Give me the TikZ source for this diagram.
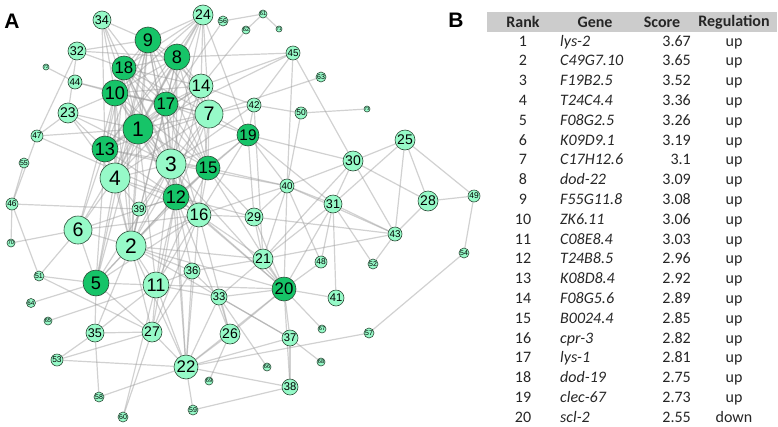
\documentclass[tikz,border=0pt]{standalone}
\usepackage{fontspec}
\setmainfont{Liberation Sans}
\newfontfamily\tabfont{Carlito}
\usetikzlibrary{backgrounds}
\definecolor{dkg}{RGB}{22,196,104}
\definecolor{ltg}{RGB}{150,250,200}
\definecolor{ndborder}{RGB}{45,75,55}
\begin{document}
\begin{tikzpicture}[x=1pt,y=-1pt,
  nd/.style={circle,draw=ndborder,line width=0.6pt,inner sep=0pt},
  dk/.style={fill=dkg}, lt/.style={fill=ltg},
  edge/.style={draw=black!40,opacity=0.45,line width=1.2pt},
  panel/.style={font=\bfseries\fontsize{21}{21}\selectfont},
  tc/.style={font=\tabfont\fontsize{16}{16}\selectfont,text=black!85,text height=11pt,text depth=3pt,inner sep=0pt},
  hd/.style={font=\tabfont\bfseries\fontsize{16}{16}\selectfont,text=black!85,inner sep=0pt}]
\useasboundingbox (0,0) rectangle (778,426);
\node[panel] (pa) at (12,21) {A};
\node[panel] (pb) at (456,20) {B};
% nodes
\foreach \n/\x/\y/\r/\c in {
 1/138/129/15/dk, 2/131/246/15/lt, 3/171/164/15/lt, 4/115/178/15/lt, 5/96/283/13/dk,
 6/78/230/14/lt, 7/209/114/14/lt, 8/177/57/13/dk, 9/148/40/13/dk, 10/115/93/13/dk,
 11/156/285/13/lt, 12/176/197/13/dk, 13/105/149/13/dk, 14/201/86/12/lt, 15/208/168/12/dk,
 16/199/215/12/lt, 17/166/104/12/dk, 18/124/68/12/dk, 19/248/135/11/dk, 20/284/289/12/dk,
 21/263/259/10/lt, 22/186/367/12/lt, 23/68/113/10/lt, 24/203/15/10/lt, 25/405/140/10/lt,
 26/230/334/10/lt, 27/152/332/10/lt, 28/428/201/10/lt, 29/254/217/9/lt, 30/353/161/10/lt,
 31/333/204/9/lt, 32/77/51/9/lt, 33/219/297/8/lt, 34/102/20/9/lt, 35/95/333/9/lt,
 36/192/271/8/lt, 37/290/338/8/lt, 38/290/387/8/lt, 39/139/209/7/lt, 40/287/186/7/lt,
 41/336/298/8/lt, 42/254/105/7/lt, 43/395/234/7/lt, 44/75/82/7/lt, 45/293/53/7/lt,
 46/12/204/6/lt, 47/37/136/6/lt, 48/321/262/6/lt, 49/474/196/6/lt, 50/301/113/6/lt,
 51/39/276/5/lt, 52/373/264/5/lt, 53/57/360/6/lt, 54/464/253/5/lt, 55/24/163/5/lt,
 56/223/21/5/lt, 57/369/333/5/lt, 58/99/397/5/lt, 59/193/410/5/lt, 60/123/417/5/lt,
 61/263/14/4/lt, 62/246/30/4/lt, 63/321/77/5/lt, 64/31/303/4.5/lt, 65/48/321/4/lt,
 66/267/367/4/lt, 67/322/329/4/lt, 68/321/362/4/lt, 69/209/381/4/lt, 70/11/243/4/lt,
 71/279/29/3/lt, 72/46/67/3/lt, 73/367/109/3/lt}{
  \pgfmathsetmacro\fs{1.4*\r}
  \pgfmathsetmacro\dd{2*\r}
  \node[nd,\c,minimum size=\dd pt] (n\n) at (\x,\y) {\fontsize{\fs}{\fs}\selectfont \n};
}
% edges
\begin{scope}[on background layer]
\foreach \a/\b in {
 34/9,34/18,34/10,34/1,34/17,34/13,
 32/9,32/8,32/23,32/47,32/18,72/44,44/17,44/10,
 23/1,23/10,23/13,23/3,23/4,47/23,47/1,47/46,47/12,55/46,46/70,46/39,46/51,70/6,
 24/8,24/9,24/18,24/17,24/10,24/1,24/14,24/7,24/19,24/13,24/3,
 56/61,56/17,61/71,61/62,62/14,63/7,
 45/8,45/14,45/42,45/40,45/30,45/1,50/42,50/73,50/40,
 42/14,42/7,42/19,42/3,42/21,
 19/7,19/40,19/29,19/15,19/16,19/3,19/30,19/17,19/31,19/12,
 1/2,1/3,1/4,1/5,1/6,1/7,1/8,1/9,1/10,1/11,1/12,1/13,1/14,1/15,1/16,1/17,1/18,
 2/3,2/4,2/5,2/6,2/7,2/8,2/9,2/11,2/12,2/13,2/15,2/16,2/17,2/18,2/10,
 3/4,3/5,3/7,3/8,3/9,3/10,3/12,3/13,3/14,3/15,3/16,3/17,3/18,3/11,
 4/6,4/7,4/8,4/9,4/10,4/12,4/13,4/14,4/16,4/17,4/18,4/5,
 5/6,5/11,5/12,5/13,5/16,5/9,6/13,6/10,6/12,6/16,
 7/8,7/9,7/10,7/12,7/13,7/14,7/15,7/17,7/18,7/16,
 8/9,8/10,8/12,8/13,8/14,8/15,8/17,8/18,
 9/10,9/12,9/13,9/14,9/15,9/17,9/18,
 10/12,10/13,10/14,10/15,10/17,10/18,
 11/12,11/15,11/16,11/36,11/20,
 12/13,12/14,12/15,12/16,12/17,12/18,13/14,13/15,13/17,13/18,
 14/15,14/17,14/18,15/16,15/17,15/18,16/17,16/18,17/18,
 39/4,39/3,39/12,39/2,6/51,5/51,51/27,64/5,65/11,
 35/5,35/27,35/53,35/58,35/11,35/2,53/27,53/22,58/22,60/27,60/11,
 27/22,27/11,27/2,27/5,27/12,27/16,27/36,
 22/59,22/38,22/26,22/33,22/20,22/57,22/37,22/16,22/12,22/11,22/2,22/36,22/3,
 59/38,38/20,38/37,37/20,37/33,37/68,67/20,57/54,54/49,49/28,49/25,
 25/28,25/43,25/30,25/31,28/43,28/30,43/30,43/31,43/40,43/29,43/21,52/43,52/31,
 30/31,30/40,30/21,31/40,31/21,31/48,31/20,
 40/29,40/21,40/20,40/48,40/16,40/15,40/3,
 29/21,29/16,29/15,29/20,29/12,21/20,21/33,21/16,21/36,21/2,48/20,41/20,41/31,
 36/33,36/2,36/12,33/20,33/26,33/11,33/37,33/2,26/20,26/16,26/12,69/26,66/33,
 20/16,20/12,20/2,20/3,20/15}{
  \draw[edge] (n\a) -- (n\b);
}
\end{scope}
% table
\fill[black!20] (487,12) rectangle (777,32);
\node[hd] (hrank) at (523,22) {Rank};
\node[hd] (hgene) at (595,22) {Gene};
\node[hd] (hscore) at (662,22) {Score};
\node[hd] (hreg) at (734,22) {Regulation};
\foreach \i/\g/\s/\u in {1/lys-2/3.67/up, 2/C49G7.10/3.65/up, 3/F19B2.5/3.52/up,
 4/T24C4.4/3.36/up, 5/F08G2.5/3.26/up, 6/K09D9.1/3.19/up, 7/C17H12.6/3.1/up,
 8/dod-22/3.09/up, 9/F55G11.8/3.08/up, 10/ZK6.11/3.06/up, 11/C08E8.4/3.03/up,
 12/T24B8.5/2.96/up, 13/K08D8.4/2.92/up, 14/F08G5.6/2.89/up, 15/B0024.4/2.85/up,
 16/cpr-3/2.82/up, 17/lys-1/2.81/up, 18/dod-19/2.75/up, 19/clec-67/2.73/up,
 20/scl-2/2.55/down}{
  \pgfmathsetmacro\yy{42+(\i-1)*19.8}
  \node[tc] (rk\i) at (523,\yy) {\i};
  \node[tc,anchor=west] (gn\i) at (560,\yy) {\itshape\g};
  \node[tc,anchor=east] (sc\i) at (691,\yy) {\s};
  \node[tc] (rg\i) at (734,\yy) {\u};
}
\end{tikzpicture}
\end{document}
